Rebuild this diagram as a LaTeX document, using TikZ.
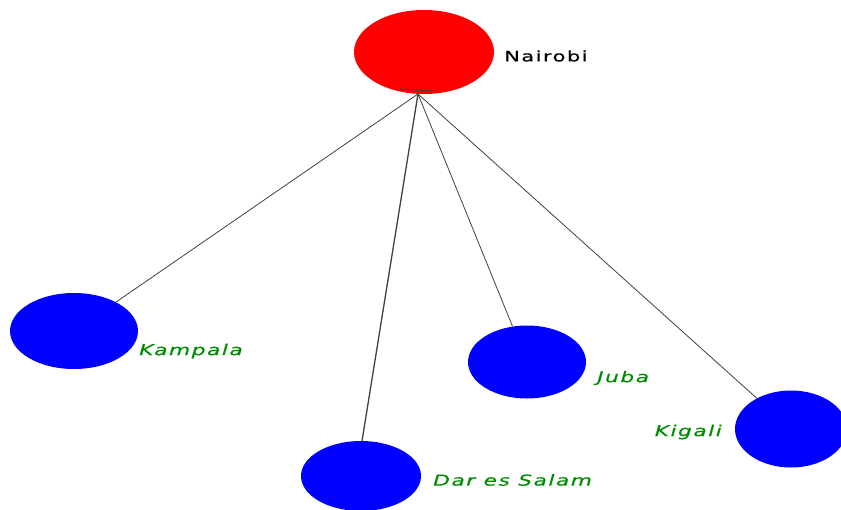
\documentclass[tikz,border=0pt]{standalone}
\usepackage{fontspec}
\setmainfont{DejaVu Sans}
\newfontfamily\lblfont[LetterSpace=10,FakeStretch=1.45,FakeBold=0.4]{DejaVu Sans}
\usetikzlibrary{shapes.geometric}
\definecolor{lblgreen}{RGB}{0,140,0}
\tikzset{
  city/.style={ellipse, fill=blue, draw=none, inner sep=0pt},
  capital/.style={ellipse, fill=red, draw=none, inner sep=0pt},
  clabel/.style={font=\lblfont\fontsize{15}{17}\selectfont\itshape, text=lblgreen, inner sep=0pt},
  link/.style={draw=black!75, line width=0.8pt}
}
\begin{document}
\begin{tikzpicture}[x=1pt,y=-1pt]
\useasboundingbox (0,0) rectangle (841,509);
\node[capital, minimum width=140pt, minimum height=84pt] (nairobi) at (424,52) {};
\node[font=\lblfont\fontsize{14.5}{16}\selectfont, anchor=west, inner sep=0pt] (nairobiL) at (504,56) {Nairobi};
\node[city, minimum width=128pt, minimum height=76pt] (kampala) at (74,331) {};
\node[clabel, anchor=west] (kampalaL) at (139,351) {Kampala};
\node[city, minimum width=120pt, minimum height=70pt] (dar) at (361,476) {};
\node[clabel, anchor=west] (darL) at (433,480) {Dar es Salam};
\node[city, minimum width=118pt, minimum height=73pt] (juba) at (527,362) {};
\node[clabel, anchor=west] (jubaL) at (597,378) {Juba};
\node[city, minimum width=112pt, minimum height=77pt] (kigali) at (791,429) {};
\node[clabel, anchor=east] (kigaliL) at (722,432) {Kigali};
\coordinate (hub) at (418,94);
\coordinate (t1) at (400,89);
\coordinate (t2) at (431,91);
\coordinate (darEnd) at (362,441);
\draw[link, line width=1pt] (t1) -- (t2);
\draw[link] (hub) -- (kampala);
\draw[link, line width=1.3pt] (hub) -- (darEnd);
\draw[link] (hub) -- (juba);
\draw[link] (hub) -- (kigali);
\end{tikzpicture}
\end{document}
